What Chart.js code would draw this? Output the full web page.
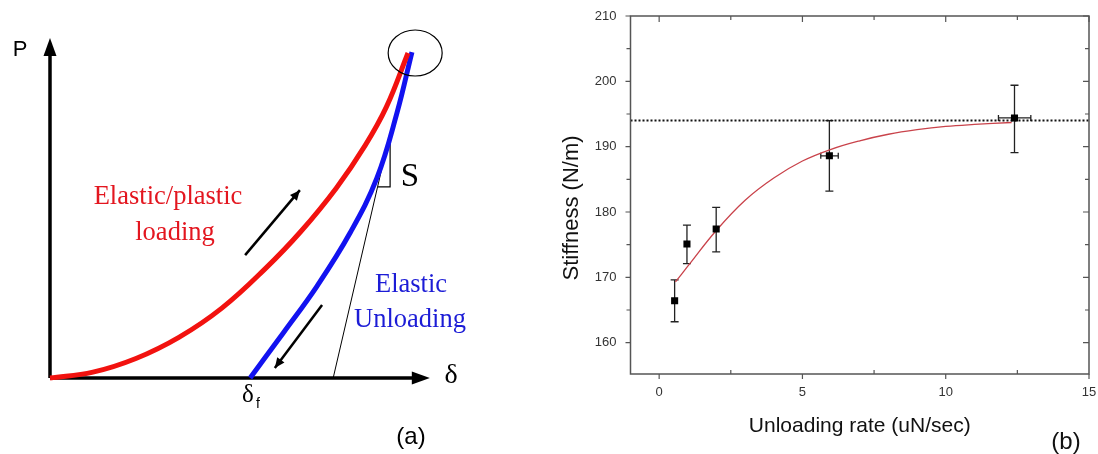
<!DOCTYPE html>
<html>
<head>
<meta charset="utf-8">
<script src="https://cdn.jsdelivr.net/npm/chart.js"></script>
<style>
  html, body { margin: 0; padding: 0; background: #fff; }
  body { width: 1098px; height: 454px; position: relative; overflow: hidden; }
  #wrapA { position: absolute; left: 0; top: 0; width: 540px; height: 454px; }
  #wrapB { position: absolute; left: 540px; top: 0; width: 558px; height: 454px; }
</style>
</head>
<body>
<div id="wrapA"><canvas id="chartA"></canvas></div>
<div id="wrapB"><canvas id="chartB"></canvas></div>
<script>
// ---- Panel (a): schematic load / unload curve (arbitrary units, 0..100) ----
const loadDelta = [0, 12, 24, 36, 48, 60, 70, 80, 88, 94, 100];
const loadP = [0, 1.8, 6.0, 12.5, 21.5, 33.5, 45, 58.5, 71.5, 83.5, 100];
const unloadDelta = [55.9, 65.1, 74.6, 83.8, 91.3, 96.9, 101.1];
const unloadP = [0, 13.8, 28.3, 44.6, 61.5, 81.5, 100.3];
const tangentDelta = [79.1, 95];
const tangentP = [0, 75.4];
const slopeDelta = [91.6, 95, 95];
const slopeP = [58.8, 58.8, 75.4];
const axisEndDelta = 106.1;
const axisEndP = 104.6;
const loadArrowDelta = [54.5, 69.8];
const loadArrowP = [37.8, 57.8];
const unloadArrowDelta = [76, 62.8];
const unloadArrowP = [22.5, 3.1];
const peakDelta = 102;
const peakP = 100;

// ---- Panel (b): stiffness vs unloading rate ----
const rate = [0.54, 0.97, 1.99, 5.94, 12.4];
const stiffness = [166.4, 175.1, 177.4, 188.6, 194.4];
const stiffLow = [163.2, 172.1, 173.9, 183.2, 189.1];
const stiffHigh = [169.6, 178.0, 180.7, 194.0, 199.4];
const rateLow = [null, null, null, 5.64, 11.84];
const rateHigh = [null, null, null, 6.25, 12.97];
const fitRate = [0.57, 1.0, 2.0, 3.0, 4.0, 5.0, 6.0, 7.0, 8.0, 9.0, 10.0, 11.0, 12.3];
const fitStiff = [169.3, 171.7, 177.2, 181.8, 185.2, 187.8, 189.6, 190.9, 191.9, 192.6, 193.1, 193.4, 193.7];
const plateau = 194.0;
const xTicks = [0, 5, 10, 15];
const yTicks = [160, 170, 180, 190, 200, 210];

const toPts = (xs, ys) => xs.map((x, i) => ({ x: x, y: ys[i] }));

function arrowHead(ctx, x1, y1, x2, y2, len, half) {
    const a = Math.atan2(y2 - y1, x2 - x1);
    ctx.beginPath();
    ctx.moveTo(x2, y2);
    ctx.lineTo(x2 - len * Math.cos(a) + half * Math.sin(a), y2 - len * Math.sin(a) - half * Math.cos(a));
    ctx.lineTo(x2 - len * Math.cos(a) - half * Math.sin(a), y2 - len * Math.sin(a) + half * Math.cos(a));
    ctx.closePath();
    ctx.fill();
}

// Decorations for panel (a): arrow heads, circle at the peak, labels
const schematicPlugin = {
    id: 'schematic',
    afterDatasetsDraw(chart) {
        const ctx = chart.ctx;
        const sx = chart.scales.x, sy = chart.scales.y;
        const px = v => sx.getPixelForValue(v);
        const py = v => sy.getPixelForValue(v);
        ctx.save();
        ctx.fillStyle = '#000';
        ctx.strokeStyle = '#000';
        // axis arrow heads
        arrowHead(ctx, px(0), py(0), px(0), py(axisEndP), 18, 6.5);
        arrowHead(ctx, px(0), py(0), px(axisEndDelta), py(0), 18, 6.5);
        // direction arrows
        arrowHead(ctx, px(loadArrowDelta[0]), py(loadArrowP[0]), px(loadArrowDelta[1]), py(loadArrowP[1]), 10, 4.5);
        arrowHead(ctx, px(unloadArrowDelta[0]), py(unloadArrowP[0]), px(unloadArrowDelta[1]), py(unloadArrowP[1]), 10, 4.5);
        // ellipse round the peak
        ctx.lineWidth = 1.2;
        ctx.beginPath();
        ctx.ellipse(px(peakDelta), py(peakP), 27, 23, 0, 0, Math.PI * 2);
        ctx.stroke();

        // labels
        ctx.textAlign = 'center';
        ctx.textBaseline = 'middle';
        ctx.font = '22px "Liberation Sans", Arial, sans-serif';
        ctx.fillText('P', 20, 50);
        ctx.font = '24px "Liberation Sans", Arial, sans-serif';
        ctx.fillText('(a)', 411, 437);
        ctx.font = '28px "Liberation Serif", "Times New Roman", serif';
        ctx.fillText('δ', 451, 376);
        ctx.font = '25px "Liberation Serif", "Times New Roman", serif';
        ctx.fillText('δ', 248, 395);
        ctx.font = '14px "Liberation Sans", Arial, sans-serif';
        ctx.fillText('f', 258, 404);
        ctx.font = '33px "Liberation Serif", "Times New Roman", serif';
        ctx.fillText('S', 410, 177);
        ctx.font = '26.5px "Liberation Serif", "Times New Roman", serif';
        ctx.fillStyle = '#e3161f';
        ctx.fillText('Elastic/plastic', 168, 197);
        ctx.fillText('loading', 175, 233);
        ctx.fillStyle = '#1c1cd6';
        ctx.fillText('Elastic', 411, 285);
        ctx.fillText('Unloading', 410, 320);
        ctx.restore();
    }
};

new Chart(document.getElementById('chartA'), {
    type: 'scatter',
    data: {
        datasets: [
            { data: toPts(loadDelta, loadP), showLine: true, borderColor: '#f2120f', borderWidth: 5, pointRadius: 0, tension: 0.4 },
            { data: toPts(unloadDelta, unloadP), showLine: true, borderColor: '#1212f0', borderWidth: 5, pointRadius: 0, tension: 0.4 },
            { data: toPts(tangentDelta, tangentP), showLine: true, borderColor: '#000', borderWidth: 1, pointRadius: 0 },
            { data: toPts(slopeDelta, slopeP), showLine: true, borderColor: '#000', borderWidth: 1.2, pointRadius: 0 },
            { data: toPts(loadArrowDelta, loadArrowP), showLine: true, borderColor: '#000', borderWidth: 2.5, pointRadius: 0 },
            { data: toPts(unloadArrowDelta, unloadArrowP), showLine: true, borderColor: '#000', borderWidth: 2.5, pointRadius: 0 },
            { data: [{ x: 0, y: 0 }, { x: axisEndDelta - 3, y: 0 }], showLine: true, borderColor: '#000', borderWidth: 3.5, pointRadius: 0 },
            { data: [{ x: 0, y: 0 }, { x: 0, y: axisEndP - 3 }], showLine: true, borderColor: '#000', borderWidth: 3.5, pointRadius: 0 }
        ]
    },
    options: {
        responsive: true,
        maintainAspectRatio: false,
        animation: false,
        layout: { padding: 0 },
        plugins: { legend: { display: false }, tooltip: { enabled: false } },
        scales: {
            x: { type: 'linear', display: false, min: -13.966, max: 136.87 },
            y: { type: 'linear', display: false, min: -23.385, max: 116.31 }
        }
    },
    plugins: [schematicPlugin]
});

// Decorations for panel (b): error bars, box frame with ticks, y title, (b)
const framePlugin = {
    id: 'frame',
    beforeDatasetsDraw(chart) {
        const ctx = chart.ctx;
        const sx = chart.scales.x, sy = chart.scales.y;
        ctx.save();
        ctx.strokeStyle = '#222';
        ctx.lineWidth = 1.3;
        rate.forEach((r, i) => {
            const x = sx.getPixelForValue(r);
            const y = sy.getPixelForValue(stiffness[i]);
            const t = sy.getPixelForValue(stiffHigh[i]);
            const b = sy.getPixelForValue(stiffLow[i]);
            ctx.beginPath();
            ctx.moveTo(x, t); ctx.lineTo(x, b);
            ctx.moveTo(x - 4, t); ctx.lineTo(x + 4, t);
            ctx.moveTo(x - 4, b); ctx.lineTo(x + 4, b);
            if (rateLow[i] !== null) {
                const l = sx.getPixelForValue(rateLow[i]);
                const h = sx.getPixelForValue(rateHigh[i]);
                ctx.moveTo(l, y); ctx.lineTo(h, y);
                ctx.moveTo(l, y - 3); ctx.lineTo(l, y + 3);
                ctx.moveTo(h, y - 3); ctx.lineTo(h, y + 3);
            }
            ctx.stroke();
        });
        ctx.restore();
    },
    afterDatasetsDraw(chart) {
        const ctx = chart.ctx;
        const a = chart.chartArea;
        const sx = chart.scales.x, sy = chart.scales.y;
        ctx.save();
        ctx.strokeStyle = '#555';
        ctx.lineWidth = 1.5;
        ctx.strokeRect(a.left, a.top, a.right - a.left, a.bottom - a.top);
        ctx.lineWidth = 1.2;
        ctx.beginPath();
        xTicks.forEach((v, i) => {
            const x = sx.getPixelForValue(v);
            ctx.moveTo(x, a.bottom); ctx.lineTo(x, a.bottom + 5);
            ctx.moveTo(x, a.top); ctx.lineTo(x, a.top + 6);
            if (i < xTicks.length - 1) {
                const m = sx.getPixelForValue((v + xTicks[i + 1]) / 2);
                ctx.moveTo(m, a.bottom); ctx.lineTo(m, a.bottom - 4);
                ctx.moveTo(m, a.top); ctx.lineTo(m, a.top + 4);
            }
        });
        yTicks.forEach((v, i) => {
            const y = sy.getPixelForValue(v);
            ctx.moveTo(a.left, y); ctx.lineTo(a.left - 5, y);
            ctx.moveTo(a.right, y); ctx.lineTo(a.right - 6, y);
            if (i < yTicks.length - 1) {
                const m = sy.getPixelForValue((v + yTicks[i + 1]) / 2);
                ctx.moveTo(a.left, m); ctx.lineTo(a.left - 4, m);
                ctx.moveTo(a.right, m); ctx.lineTo(a.right - 4, m);
            }
        });
        ctx.stroke();
        ctx.restore();
    },
    afterDraw(chart) {
        const ctx = chart.ctx;
        ctx.save();
        ctx.fillStyle = '#111';
        ctx.textAlign = 'center';
        ctx.textBaseline = 'middle';
        ctx.translate(32, 208);
        ctx.rotate(-Math.PI / 2);
        ctx.font = '22px "Liberation Sans", Arial, sans-serif';
        ctx.fillText('Stiffness (N/m)', 0, 0);
        ctx.restore();
        ctx.save();
        ctx.fillStyle = '#111';
        ctx.textAlign = 'center';
        ctx.textBaseline = 'middle';
        ctx.font = '24px "Liberation Sans", Arial, sans-serif';
        ctx.fillText('(b)', 526, 442);
        ctx.restore();
    }
};

new Chart(document.getElementById('chartB'), {
    type: 'scatter',
    data: {
        datasets: [
            { data: toPts(rate, stiffness), pointStyle: 'rect', pointRadius: 5, backgroundColor: '#000', borderColor: '#000', borderWidth: 0 },
            { data: toPts(fitRate, fitStiff), showLine: true, borderColor: '#c9434b', borderWidth: 1.3, pointRadius: 0, tension: 0.4 },
            { data: [{ x: -1, y: plateau }, { x: 15, y: plateau }], showLine: true, borderColor: '#111', borderWidth: 2, borderDash: [2, 2], pointRadius: 0 }
        ]
    },
    options: {
        responsive: true,
        maintainAspectRatio: false,
        animation: false,
        layout: { padding: { top: 16, right: 9, left: 0, bottom: 0 } },
        plugins: { legend: { display: false }, tooltip: { enabled: false } },
        scales: {
            x: {
                type: 'linear', min: -1, max: 15,
                afterBuildTicks: s => { s.ticks = xTicks.map(v => ({ value: v })); },
                afterFit: s => { s.height = 80; s.paddingLeft = 0; s.paddingRight = 0; },
                grid: { display: false, drawTicks: false },
                border: { display: false },
                ticks: { padding: 11, color: '#333', font: { size: 13, family: '"Liberation Sans", Arial, sans-serif' } },
                title: { display: true, text: 'Unloading rate (uN/sec)', color: '#111', padding: { top: 0, bottom: 15 }, font: { size: 21, family: '"Liberation Sans", Arial, sans-serif' } }
            },
            y: {
                type: 'linear', min: 155.2, max: 210,
                afterBuildTicks: s => { s.ticks = yTicks.map(v => ({ value: v })); },
                afterFit: s => { s.width = 90.5; s.paddingTop = 0; s.paddingBottom = 0; },
                grid: { display: false, drawTicks: false },
                border: { display: false },
                ticks: { padding: 14, color: '#333', font: { size: 13, family: '"Liberation Sans", Arial, sans-serif' } }
            }
        }
    },
    plugins: [framePlugin]
});
</script>
</body>
</html>
